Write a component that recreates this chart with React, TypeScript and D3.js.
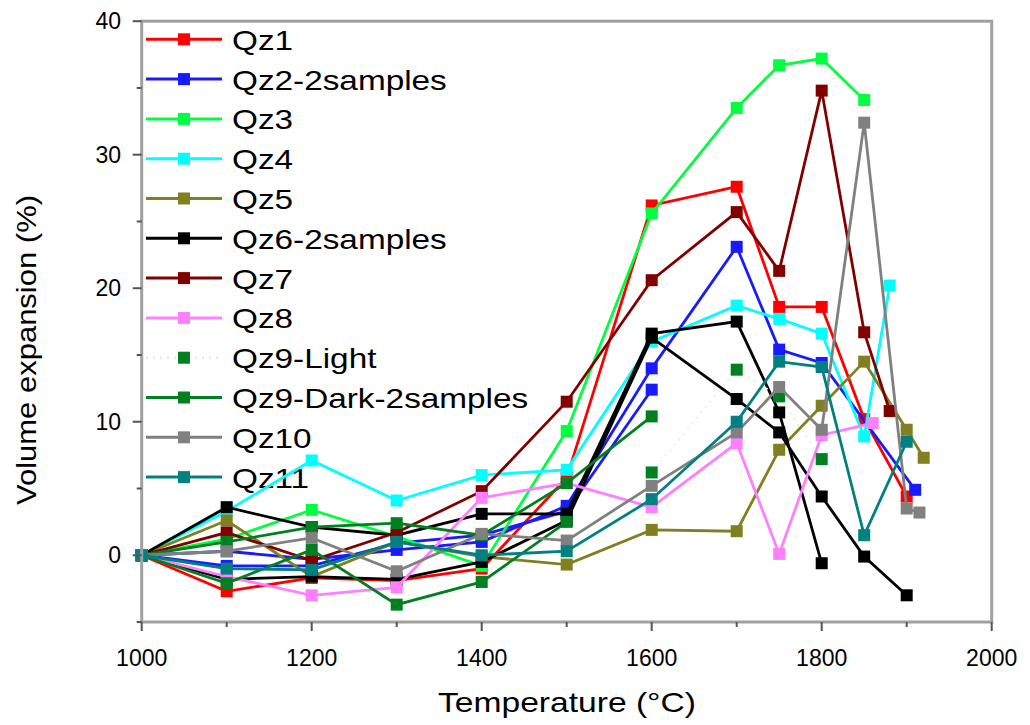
import React from "react";
import * as d3 from "d3";

type P = [number, number];

const xTicks = [1000, 1200, 1400, 1600, 1800, 2000];
const xMinor = [1100, 1300, 1500, 1700, 1900];
const yTicks = [0, 10, 20, 30, 40];
const yMinor = [-5, 5, 15, 25, 35];

const qz1: P[] = [[1000,0],[1100,-2.7],[1200,-1.7],[1300,-1.9],[1400,-1.0],[1500,5.8],[1600,26.2],[1700,27.6],[1750,18.6],[1800,18.6],[1850,10.2],[1900,4.4]];
const qz2a: P[] = [[1000,0],[1100,0.3],[1200,-0.3],[1300,0.4],[1400,1.0],[1500,3.7],[1600,14.0],[1700,23.1],[1750,15.4],[1800,14.4],[1910,4.9]];
const qz2b: P[] = [[1000,0],[1100,-0.8],[1200,-0.8],[1300,0.9],[1400,1.5],[1500,3.3],[1600,12.4]];
const qz3: P[] = [[1000,0],[1100,1.2],[1200,3.4],[1300,1.4],[1400,-0.8],[1500,9.3],[1600,25.6],[1700,33.5],[1750,36.7],[1800,37.2],[1850,34.1]];
const qz4: P[] = [[1000,0],[1100,3.3],[1200,7.1],[1300,4.1],[1400,6.0],[1500,6.4],[1600,16.0],[1700,18.7],[1750,17.7],[1800,16.6],[1850,8.9],[1880,20.2]];
const qz5: P[] = [[1000,0],[1100,2.6],[1200,-1.6],[1300,1.0],[1400,-0.1],[1500,-0.7],[1600,1.9],[1700,1.8],[1750,7.9],[1800,11.2],[1850,14.5],[1900,9.4],[1920,7.3]];
const qz6a: P[] = [[1000,0],[1100,3.6],[1200,2.1],[1300,1.5],[1400,3.1],[1500,3.1],[1600,16.6],[1700,17.5],[1750,10.7],[1800,-0.6]];
const qz6b: P[] = [[1000,0],[1100,-1.8],[1200,-1.6],[1300,-1.8],[1400,-0.5],[1500,2.6],[1600,16.3],[1700,11.7],[1750,9.2],[1800,4.4],[1850,-0.1],[1900,-3.0]];
const qz7: P[] = [[1000,0],[1100,1.7],[1200,-0.4],[1300,1.7],[1400,4.8],[1500,11.5],[1600,20.6],[1700,25.7],[1750,21.3],[1800,34.8],[1850,16.7],[1880,10.8]];
const qz8: P[] = [[1000,0],[1100,-1.6],[1200,-3.0],[1300,-2.4],[1400,4.3],[1500,5.4],[1600,3.6],[1700,8.4],[1750,0.1],[1800,9.0],[1860,9.9]];
const qz9Light: P[] = [[1600,6.2],[1700,13.9],[1750,11.9],[1800,7.2]];
const qz9DarkA: P[] = [[1000,0],[1100,1.0],[1200,2.1],[1300,2.4],[1400,1.5],[1500,5.4],[1600,10.4]];
const qz9DarkB: P[] = [[1000,0],[1100,-2.1],[1200,0.4],[1300,-3.7],[1400,-2.0],[1500,2.5]];
const qz10: P[] = [[1000,0],[1100,0.3],[1200,1.3],[1300,-1.2],[1400,1.6],[1500,1.1],[1600,5.2],[1700,9.2],[1750,12.6],[1800,9.4],[1850,32.4],[1900,3.5],[1915,3.2]];
const qz11: P[] = [[1000,0],[1100,-1.0],[1200,-1.1],[1300,1.0],[1400,0.0],[1500,0.3],[1600,4.2],[1700,10.0],[1750,14.5],[1800,14.1],[1850,1.5],[1900,8.5]];

const seriesNames = ["Qz1","Qz2-2samples","Qz3","Qz4","Qz5","Qz6-2samples","Qz7","Qz8","Qz9-Light","Qz9-Dark-2samples","Qz10","Qz11"];
const seriesColors = ["#ff0000","#1a1aff","#00ff40","#00ffff","#808020","#000000","#800000","#ff80ff","#008020","#008020","#808080","#008080"];
const seriesData: P[][][] = [[qz1],[qz2a,qz2b],[qz3],[qz4],[qz5],[qz6a,qz6b],[qz7],[qz8],[qz9Light],[qz9DarkA,qz9DarkB],[qz10],[qz11]];

const FONT = "Arial, 'Liberation Sans', sans-serif";

export default function App() {
  const x = d3.scaleLinear().domain([1000, 2000]).range([141.7, 991.7]);
  const y = d3.scaleLinear().domain([-5, 40]).range([622, 21.2]);
  const line = d3.line<P>().x(d => x(d[0])).y(d => y(d[1]));
  const ms = 12;
  const legX0 = 146, legX1 = 222, legTx = 232, legY0 = 39.3, legDy = 39.8;

  return (
    <svg width={1030} height={725} style={{ position: "absolute", left: 0, top: 0, background: "#fff" }} fontFamily={FONT}>
      {seriesNames.map((n, i) => {
        const cy = legY0 + i * legDy;
        const light = n === "Qz9-Light";
        return (
          <g key={n}>
            <line x1={legX0} x2={legX1} y1={cy} y2={cy} stroke={light ? "#e4f0e4" : seriesColors[i]} strokeWidth={3} strokeDasharray={light ? "2,5" : undefined} />
            <rect x={(legX0 + legX1) / 2 - ms / 2} y={cy - ms / 2} width={ms} height={ms} fill={seriesColors[i]} />
            <text transform={`translate(${legTx},${cy + 1}) scale(1.19,1)`} fontSize={28} dominantBaseline="central" fill="#000">{n}</text>
          </g>
        );
      })}
      {seriesData.map((groups, i) => {
        const light = seriesNames[i] === "Qz9-Light";
        return (
          <g key={i}>
            {groups.map((g, j) => (
              <path key={"l" + j} d={line(g) || ""} fill="none" stroke={light ? "#e4f0e4" : seriesColors[i]} strokeWidth={light ? 2 : 2.8} strokeDasharray={light ? "2,5" : undefined} strokeLinejoin="miter" />
            ))}
            {groups.map((g, j) => g.map((d, k) => (
              <rect key={"m" + j + "_" + k} x={x(d[0]) - ms / 2} y={y(d[1]) - ms / 2} width={ms} height={ms} fill={seriesColors[i]} />
            )))}
          </g>
        );
      })}
      <rect x={x(1000)} y={y(40)} width={x(2000) - x(1000)} height={y(-5) - y(40)} fill="none" stroke="#a0a0a0" strokeWidth={3} />
      {xTicks.map(t => (
        <g key={"xt" + t}>
          <line x1={x(t)} x2={x(t)} y1={y(-5)} y2={y(-5) + 9} stroke="#555" strokeWidth={2} />
          <text x={x(t)} y={666} fontSize={23} textAnchor="middle" fill="#000">{t}</text>
        </g>
      ))}
      {xMinor.map(t => (
        <line key={"xm" + t} x1={x(t)} x2={x(t)} y1={y(-5)} y2={y(-5) + 5} stroke="#555" strokeWidth={2} />
      ))}
      {yTicks.map(t => (
        <g key={"yt" + t}>
          <line x1={x(1000) - 9} x2={x(1000)} y1={y(t)} y2={y(t)} stroke="#555" strokeWidth={2} />
          <text x={121} y={y(t)} fontSize={23} textAnchor="end" dominantBaseline="central" fill="#000">{t}</text>
        </g>
      ))}
      {yMinor.map(t => (
        <line key={"ym" + t} x1={x(1000) - 5} x2={x(1000)} y1={y(t)} y2={y(t)} stroke="#555" strokeWidth={2} />
      ))}
      <text x={567} y={712} fontSize={28} textAnchor="middle" textLength={258} lengthAdjust="spacingAndGlyphs" fill="#000">Temperature (°C)</text>
      <text transform="translate(36,350) rotate(-90)" fontSize={28} textAnchor="middle" textLength={310} lengthAdjust="spacingAndGlyphs" fill="#000">Volume expansion (%)</text>
    </svg>
  );
}
